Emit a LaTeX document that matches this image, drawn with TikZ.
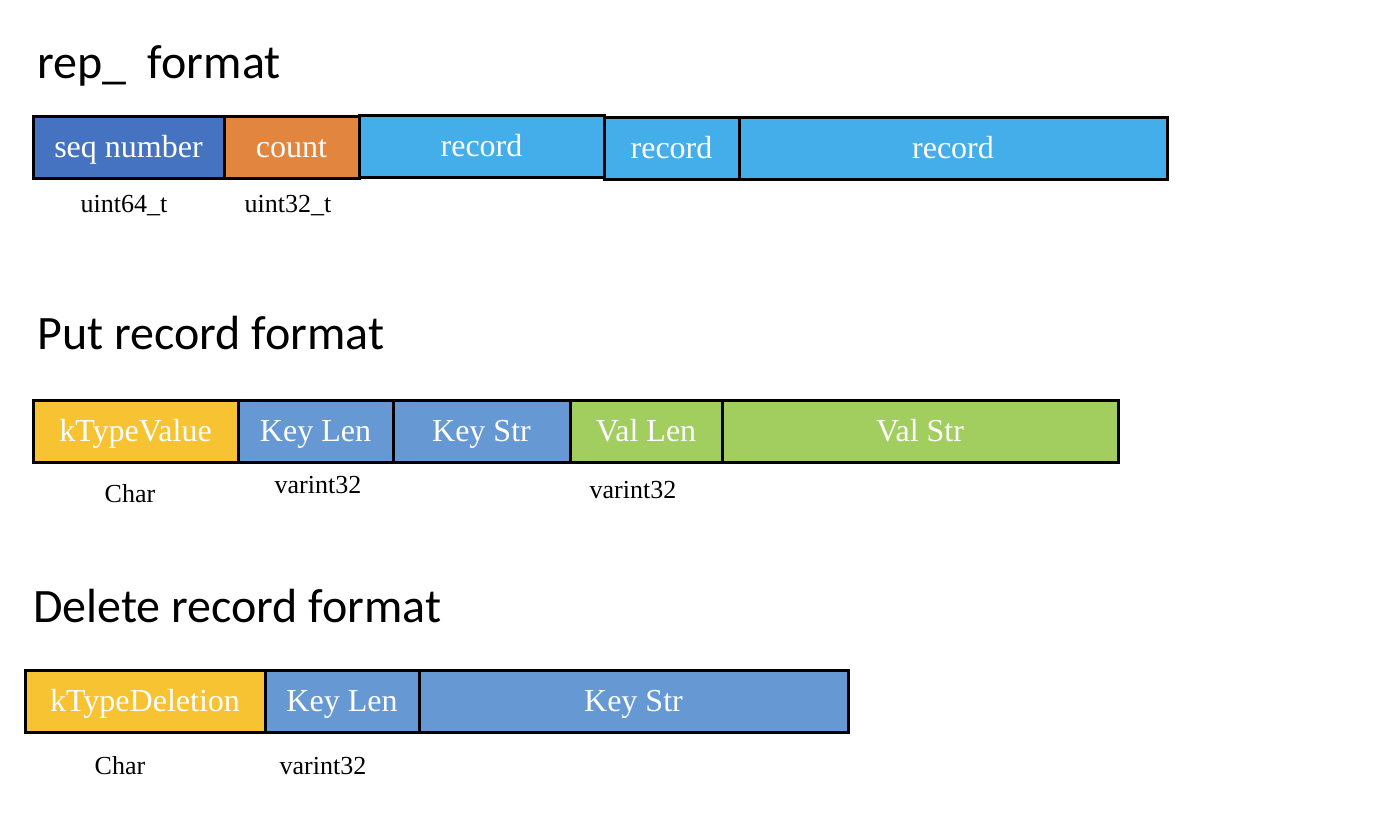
\documentclass[tikz,border=0pt]{standalone}
\usepackage{fontspec}
\setmainfont{Liberation Serif}
\newfontfamily\titlefont{Carlito}
\definecolor{seqblue}{HTML}{4673C1}
\definecolor{cntorange}{HTML}{E2863F}
\definecolor{recblue}{HTML}{44AEEB}
\definecolor{typeyellow}{HTML}{F7C333}
\definecolor{keyblue}{HTML}{6699D3}
\definecolor{valgreen}{HTML}{A2CD5F}
\tikzset{
  cell/.style={draw=black, line width=3pt, text=white, inner sep=0pt,
    minimum height=62pt, text height=23pt, text depth=3pt,
    font=\fontsize{32}{38}\selectfont},
  tag/.style={anchor=base, font=\fontsize{26}{30}\selectfont},
  heading/.style={anchor=base west, inner sep=0pt, font=\titlefont\fontsize{48}{56}\selectfont},
}
\begin{document}
\begin{tikzpicture}[x=1pt, y=-1pt]
\useasboundingbox (0,0) rectangle (1397,821);
% rep_ format
\node[heading] (reptitle) at (37,79) {rep\_\ \ format};
\node[cell, fill=seqblue, minimum width=191pt] (seq) at (128.5,147.5) {seq number};
\node[cell, fill=cntorange, minimum width=135pt] (count) at (291.5,147.5) {count};
\node[cell, fill=recblue, minimum width=245pt] (recA) at (481.5,146.5) {record};
\node[cell, fill=recblue, minimum width=135pt] (recB) at (671.5,148.5) {record};
\node[cell, fill=recblue, minimum width=428pt] (recC) at (953,148.5) {record};
\node[tag] (seqtype) at (124,213) {uint64\_t};
\node[tag] (counttype) at (288,213) {uint32\_t};

% Put record format
\node[heading] (puttitle) at (37,349) {Put record format};
\node[cell, fill=typeyellow, minimum width=205pt] (ktv) at (135.5,431) {kTypeValue};
\node[cell, fill=keyblue, minimum width=155pt] (keylen) at (315.5,431) {Key Len};
\node[cell, fill=keyblue, minimum width=177pt] (keystr) at (481.5,431) {Key Str};
\node[cell, fill=valgreen, minimum width=152pt] (vallen) at (646,431) {Val Len};
\node[cell, fill=valgreen, minimum width=396pt] (valstr) at (920,431.5) {Val Str};
\node[tag] (ktvtype) at (130,502) {Char};
\node[tag] (keylentype) at (318,493) {varint32};
\node[tag] (vallentype) at (633,498) {varint32};

% Delete record format
\node[heading] (deltitle) at (33,622) {Delete record format};
\node[cell, fill=typeyellow, minimum width=240pt] (ktd) at (145,701.5) {kTypeDeletion};
\node[cell, fill=keyblue, minimum width=154pt] (dkeylen) at (342,701.5) {Key Len};
\node[cell, fill=keyblue, minimum width=429pt] (dkeystr) at (633.5,701.5) {Key Str};
\node[tag] (ktdtype) at (120,774) {Char};
\node[tag] (dkeylentype) at (323,774) {varint32};
\end{tikzpicture}
\end{document}
